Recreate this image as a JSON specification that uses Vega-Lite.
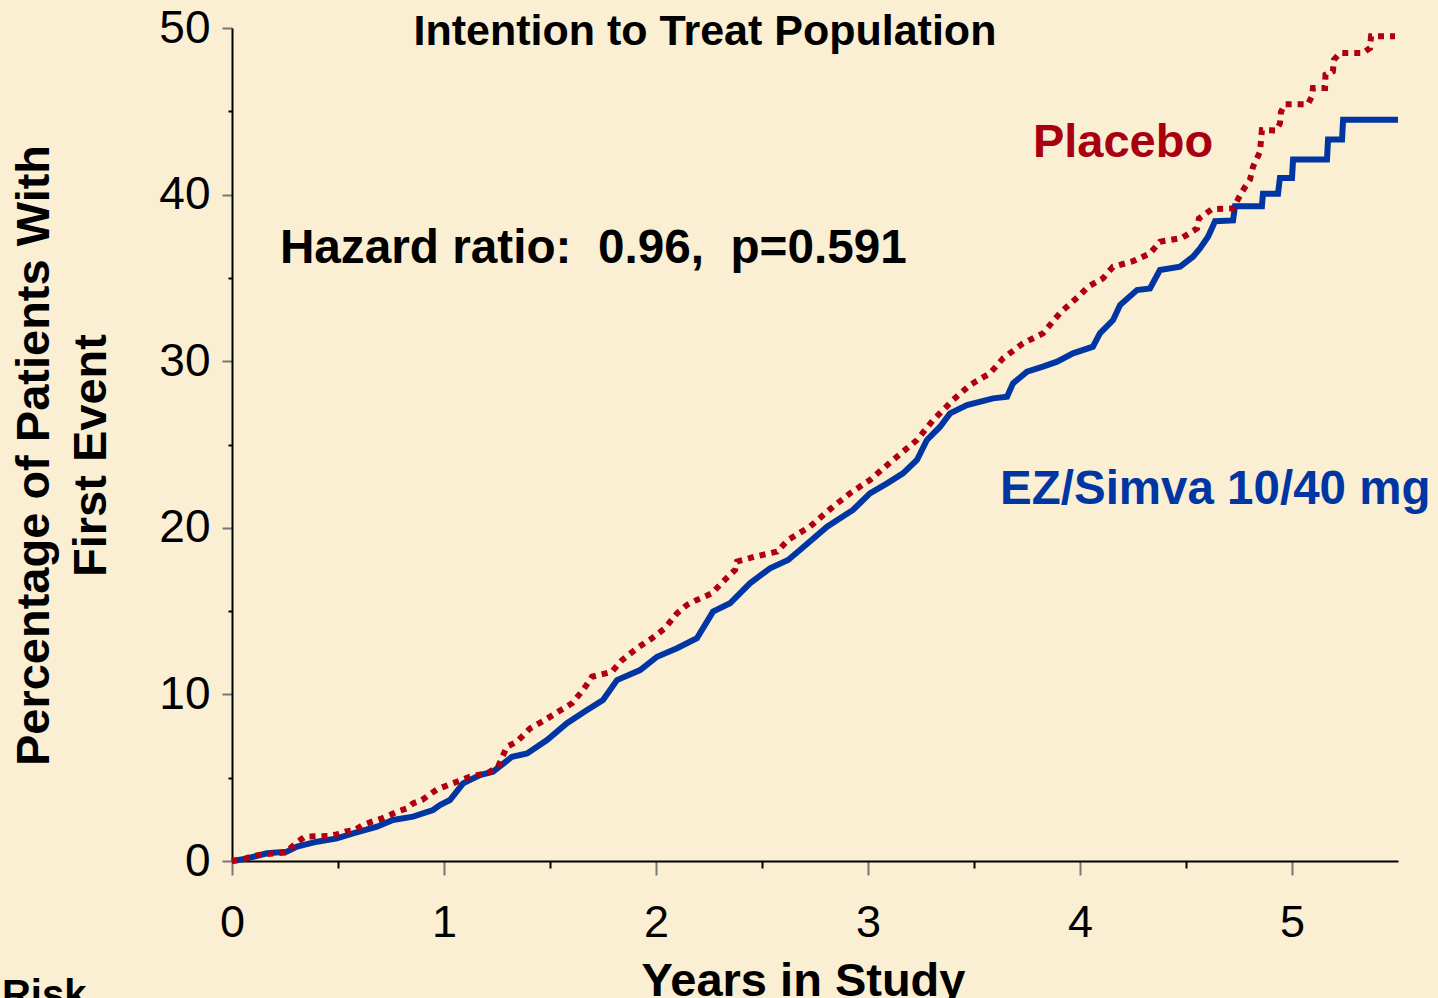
{
  "$schema": "https://vega.github.io/schema/vega-lite/v6.json",
  "width": 1166,
  "height": 833,
  "autosize": {"type": "none"},
  "padding": {"left": 232, "top": 28, "right": 40, "bottom": 137},
  "background": "#FAEED3",
  "config": {"view": {"stroke": null}, "font": "Liberation Sans"},
  "datasets": {
    "ez": [
      {"years": 0, "pct": 0}, {"years": 0.052, "pct": 0.1}, {"years": 0.165, "pct": 0.46}, {"years": 0.259, "pct": 0.56},
      {"years": 0.307, "pct": 0.86}, {"years": 0.401, "pct": 1.16}, {"years": 0.495, "pct": 1.36}, {"years": 0.571, "pct": 1.66},
      {"years": 0.684, "pct": 2.06}, {"years": 0.759, "pct": 2.46}, {"years": 0.854, "pct": 2.66}, {"years": 0.948, "pct": 3.06},
      {"years": 0.981, "pct": 3.36}, {"years": 1.028, "pct": 3.66}, {"years": 1.09, "pct": 4.66}, {"years": 1.17, "pct": 5.16},
      {"years": 1.231, "pct": 5.36}, {"years": 1.321, "pct": 6.26}, {"years": 1.392, "pct": 6.46}, {"years": 1.486, "pct": 7.26},
      {"years": 1.58, "pct": 8.27}, {"years": 1.675, "pct": 9.06}, {"years": 1.75, "pct": 9.66}, {"years": 1.816, "pct": 10.86},
      {"years": 1.925, "pct": 11.46}, {"years": 2.005, "pct": 12.26}, {"years": 2.099, "pct": 12.77}, {"years": 2.193, "pct": 13.37},
      {"years": 2.269, "pct": 14.97}, {"years": 2.349, "pct": 15.47}, {"years": 2.443, "pct": 16.67}, {"years": 2.538, "pct": 17.57},
      {"years": 2.623, "pct": 18.07}, {"years": 2.679, "pct": 18.67}, {"years": 2.807, "pct": 20.07}, {"years": 2.929, "pct": 21.07},
      {"years": 3.009, "pct": 22.07}, {"years": 3.09, "pct": 22.67}, {"years": 3.165, "pct": 23.27}, {"years": 3.231, "pct": 24.07},
      {"years": 3.278, "pct": 25.27}, {"years": 3.34, "pct": 26.07}, {"years": 3.387, "pct": 26.87}, {"years": 3.467, "pct": 27.37},
      {"years": 3.59, "pct": 27.77}, {"years": 3.656, "pct": 27.87}, {"years": 3.684, "pct": 28.67}, {"years": 3.75, "pct": 29.37},
      {"years": 3.825, "pct": 29.67}, {"years": 3.892, "pct": 29.97}, {"years": 3.967, "pct": 30.47}, {"years": 4.061, "pct": 30.87},
      {"years": 4.094, "pct": 31.67}, {"years": 4.156, "pct": 32.47}, {"years": 4.189, "pct": 33.37}, {"years": 4.269, "pct": 34.27},
      {"years": 4.33, "pct": 34.37}, {"years": 4.377, "pct": 35.47}, {"years": 4.472, "pct": 35.67}, {"years": 4.533, "pct": 36.27},
      {"years": 4.566, "pct": 36.77}, {"years": 4.604, "pct": 37.47}, {"years": 4.637, "pct": 38.4}, {"years": 4.722, "pct": 38.45},
      {"years": 4.731, "pct": 39.3}, {"years": 4.858, "pct": 39.3}, {"years": 4.863, "pct": 40.05}, {"years": 4.934, "pct": 40.05},
      {"years": 4.943, "pct": 41.0}, {"years": 5.0, "pct": 41.0}, {"years": 5.005, "pct": 42.1}, {"years": 5.165, "pct": 42.1},
      {"years": 5.17, "pct": 43.3}, {"years": 5.236, "pct": 43.3}, {"years": 5.241, "pct": 44.5}, {"years": 5.5, "pct": 44.5}
    ],
    "placebo": [
      {"years": 0, "pct": 0}, {"years": 0.052, "pct": 0.1}, {"years": 0.099, "pct": 0.3}, {"years": 0.146, "pct": 0.4},
      {"years": 0.25, "pct": 0.5}, {"years": 0.283, "pct": 0.86}, {"years": 0.311, "pct": 1.16}, {"years": 0.344, "pct": 1.46},
      {"years": 0.453, "pct": 1.5}, {"years": 0.495, "pct": 1.6}, {"years": 0.533, "pct": 1.76}, {"years": 0.58, "pct": 1.86},
      {"years": 0.618, "pct": 2.16}, {"years": 0.66, "pct": 2.36}, {"years": 0.708, "pct": 2.56}, {"years": 0.745, "pct": 2.76},
      {"years": 0.778, "pct": 2.96}, {"years": 0.825, "pct": 3.16}, {"years": 0.854, "pct": 3.46}, {"years": 0.896, "pct": 3.66},
      {"years": 0.934, "pct": 4.0}, {"years": 0.967, "pct": 4.3}, {"years": 1.028, "pct": 4.6}, {"years": 1.123, "pct": 5.06},
      {"years": 1.208, "pct": 5.3}, {"years": 1.255, "pct": 5.66}, {"years": 1.297, "pct": 6.86}, {"years": 1.344, "pct": 7.16},
      {"years": 1.406, "pct": 7.96}, {"years": 1.476, "pct": 8.46}, {"years": 1.538, "pct": 8.96}, {"years": 1.604, "pct": 9.47},
      {"years": 1.656, "pct": 10.26}, {"years": 1.698, "pct": 11.06}, {"years": 1.792, "pct": 11.36}, {"years": 1.84, "pct": 12.06},
      {"years": 1.91, "pct": 12.77}, {"years": 1.981, "pct": 13.37}, {"years": 2.042, "pct": 13.97}, {"years": 2.099, "pct": 14.87},
      {"years": 2.146, "pct": 15.37}, {"years": 2.193, "pct": 15.67}, {"years": 2.264, "pct": 16.07}, {"years": 2.316, "pct": 16.77},
      {"years": 2.373, "pct": 17.47}, {"years": 2.382, "pct": 17.97}, {"years": 2.467, "pct": 18.27}, {"years": 2.571, "pct": 18.57},
      {"years": 2.623, "pct": 19.27}, {"years": 2.726, "pct": 20.07}, {"years": 2.835, "pct": 21.27}, {"years": 2.915, "pct": 22.07},
      {"years": 3.009, "pct": 22.87}, {"years": 3.118, "pct": 24.07}, {"years": 3.231, "pct": 25.27}, {"years": 3.307, "pct": 26.47},
      {"years": 3.401, "pct": 27.67}, {"years": 3.481, "pct": 28.57}, {"years": 3.575, "pct": 29.27}, {"years": 3.637, "pct": 30.17},
      {"years": 3.731, "pct": 31.07}, {"years": 3.825, "pct": 31.67}, {"years": 3.906, "pct": 32.9}, {"years": 4.0, "pct": 33.97},
      {"years": 4.038, "pct": 34.47}, {"years": 4.108, "pct": 34.97}, {"years": 4.156, "pct": 35.67}, {"years": 4.25, "pct": 36.0},
      {"years": 4.33, "pct": 36.47}, {"years": 4.377, "pct": 37.17}, {"years": 4.481, "pct": 37.4}, {"years": 4.552, "pct": 37.97},
      {"years": 4.561, "pct": 38.57}, {"years": 4.623, "pct": 39.13}, {"years": 4.722, "pct": 39.17}, {"years": 4.764, "pct": 40.17},
      {"years": 4.802, "pct": 40.91}, {"years": 4.816, "pct": 41.67}, {"years": 4.849, "pct": 42.57}, {"years": 4.858, "pct": 43.87},
      {"years": 4.925, "pct": 43.85}, {"years": 4.943, "pct": 44.27}, {"years": 4.948, "pct": 44.97}, {"years": 4.967, "pct": 45.43},
      {"years": 5.075, "pct": 45.43}, {"years": 5.094, "pct": 45.9}, {"years": 5.099, "pct": 46.4}, {"years": 5.156, "pct": 46.4},
      {"years": 5.158, "pct": 47.2}, {"years": 5.193, "pct": 47.4}, {"years": 5.198, "pct": 48.1}, {"years": 5.226, "pct": 48.5},
      {"years": 5.335, "pct": 48.5}, {"years": 5.368, "pct": 48.8}, {"years": 5.373, "pct": 49.5}, {"years": 5.486, "pct": 49.5}
    ]
  },
  "layer": [
    {
      "data": {"name": "ez"},
      "mark": {"type": "line", "color": "#0036A3", "strokeWidth": 6, "strokeJoin": "miter", "clip": false},
      "encoding": {
        "x": {
          "field": "years", "type": "quantitative",
          "scale": {"domain": [0, 5.5], "nice": false, "zero": false},
          "axis": {
            "title": "Years in Study",
            "values": [0, 0.5, 1, 1.5, 2, 2.5, 3, 3.5, 4, 4.5, 5],
            "labelExpr": "datum.value % 1 === 0 ? format(datum.value, 'd') : ''",
            "labelFont": "Liberation Sans", "labelFontSize": 45, "labelColor": "#000",
            "labelPadding": 25, "labelFlush": false, "labelOverlap": false, "labelBound": false,
            "tickSize": {"condition": {"test": "datum.value % 1 === 0", "value": 14}, "value": 7},
            "tickColor": {"condition": {"test": "datum.value % 1 === 0", "value": "#777777"}, "value": "#000000"},
            "tickWidth": 2,
            "domainColor": "#000", "domainWidth": 2, "grid": false,
            "titleFont": "Liberation Sans", "titleFontSize": 47, "titleFontWeight": "bold", "titleColor": "#000",
            "titleX": 571, "titleY": 134, "titleBaseline": "alphabetic", "titleAlign": "center"
          }
        },
        "y": {
          "field": "pct", "type": "quantitative",
          "scale": {"domain": [0, 50], "nice": false},
          "axis": {
            "title": ["Percentage of Patients With", "First Event"],
            "values": [0, 5, 10, 15, 20, 25, 30, 35, 40, 45, 50],
            "labelExpr": "datum.value % 10 === 0 ? format(datum.value, 'd') : ''",
            "labelFont": "Liberation Sans", "labelFontSize": 46, "labelColor": "#000",
            "labelPadding": 12, "labelOverlap": false, "labelBound": false, "labelFlush": false,
            "tickSize": {"condition": {"test": "datum.value % 10 === 0", "value": 10}, "value": 4},
            "tickColor": {"condition": {"test": "datum.value % 10 === 0", "value": "#777777"}, "value": "#000000"},
            "tickWidth": 2,
            "domainColor": "#000", "domainWidth": 2, "grid": false,
            "titleFont": "Liberation Sans", "titleFontSize": 47, "titleFontWeight": "bold", "titleColor": "#000",
            "titleLineHeight": 57, "titleAngle": 270,
            "titleX": -198, "titleY": 427, "titleBaseline": "middle", "titleAlign": "center"
          }
        }
      }
    },
    {
      "data": {"name": "placebo"},
      "mark": {"type": "line", "color": "#B0000F", "strokeWidth": 6, "strokeDash": [6, 6], "strokeCap": "butt", "clip": false},
      "encoding": {
        "x": {"field": "years", "type": "quantitative"},
        "y": {"field": "pct", "type": "quantitative"}
      }
    },
    {
      "data": {"values": [{"label": "Intention to Treat Population", "years": 2.231, "pct": 49.0}]},
      "mark": {"type": "text", "font": "Liberation Sans", "fontSize": 43, "fontWeight": "bold", "color": "#000", "align": "center", "baseline": "alphabetic"},
      "encoding": {"x": {"field": "years", "type": "quantitative"}, "y": {"field": "pct", "type": "quantitative"}, "text": {"field": "label"}}
    },
    {
      "data": {"values": [{"label": "Hazard ratio:\u00a0 0.96,\u00a0 p=0.591", "years": 0.226, "pct": 35.9}]},
      "mark": {"type": "text", "font": "Liberation Sans", "fontSize": 47.7, "fontWeight": "bold", "color": "#000", "align": "left", "baseline": "alphabetic"},
      "encoding": {"x": {"field": "years", "type": "quantitative"}, "y": {"field": "pct", "type": "quantitative"}, "text": {"field": "label"}}
    },
    {
      "data": {"values": [{"label": "Placebo", "years": 3.778, "pct": 42.26}]},
      "mark": {"type": "text", "font": "Liberation Sans", "fontSize": 47, "fontWeight": "bold", "color": "#A8000F", "align": "left", "baseline": "alphabetic"},
      "encoding": {"x": {"field": "years", "type": "quantitative"}, "y": {"field": "pct", "type": "quantitative"}, "text": {"field": "label"}}
    },
    {
      "data": {"values": [{"label": "EZ/Simva 10/40 mg", "years": 3.623, "pct": 21.43}]},
      "mark": {"type": "text", "font": "Liberation Sans", "fontSize": 47.5, "fontWeight": "bold", "color": "#0036A3", "align": "left", "baseline": "alphabetic"},
      "encoding": {"x": {"field": "years", "type": "quantitative"}, "y": {"field": "pct", "type": "quantitative"}, "text": {"field": "label"}}
    },
    {
      "data": {"values": [{"label": "Risk", "years": -1.085, "pct": -8.8}]},
      "mark": {"type": "text", "font": "Liberation Sans", "fontSize": 40, "fontWeight": "bold", "color": "#000", "align": "left", "baseline": "alphabetic"},
      "encoding": {"x": {"field": "years", "type": "quantitative"}, "y": {"field": "pct", "type": "quantitative"}, "text": {"field": "label"}}
    }
  ]
}
